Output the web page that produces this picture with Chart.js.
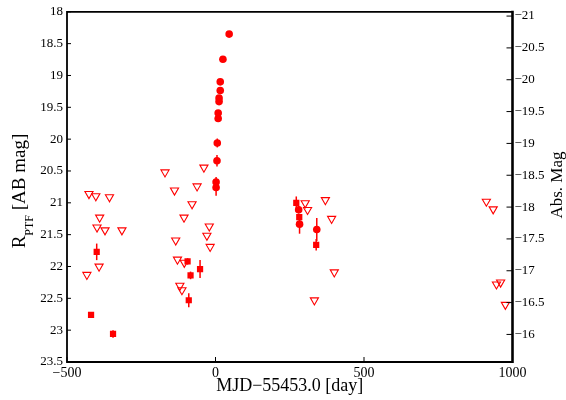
<!DOCTYPE html>
<html>
<head>
<meta charset="utf-8">
<script src="https://cdn.jsdelivr.net/npm/chart.js@4"></script>
<style>
html, body { margin: 0; padding: 0; background: #fff; }
#wrap { width: 566px; height: 400px; }
</style>
</head>
<body>
<div id="wrap"><canvas id="chart" width="566" height="400"></canvas></div>
<script>
// detections, filled circles
const circleDays = [46, 25, 16, 16, 12, 12, 9, 9, 6, 5, 2, 2, 280, 283, 341]
const circleMags = [18.35, 18.745, 19.10, 19.235, 19.355, 19.41, 19.59, 19.675, 20.06, 20.34, 20.675, 20.76, 21.11, 21.335, 21.42]
const circleErrs = [0.02, 0.02, 0.03, 0.03, 0.03, 0.03, 0.04, 0.04, 0.07, 0.09, 0.08, 0.13, 0.06, 0.15, 0.18]

// detections, filled squares
const squareDays = [-419, -400, -345, -94, -84, -90, -52, 272, 282, 339]
const squareMags = [22.76, 21.77, 23.06, 21.92, 22.14, 22.53, 22.04, 21.00, 21.225, 21.66]
const squareErrs = [0.03, 0.13, 0.06, 0.05, 0.06, 0.11, 0.14, 0.10, 0.05, 0.09]

// upper limits, open triangles
const limitDays = [-426, -403, -357, -390, -399, -372, -315, -392, -433,
    -170, -39, -138, -62, -79, -106, -21, -29, -134, -18, -128, -105, -120, -113,
    302, 310, 370, 391, 400, 333,
    912, 935, 946, 960, 976]
const limitMags = [20.86, 20.895, 20.91, 21.23, 21.385, 21.43, 21.43, 22.0, 22.13,
    20.52, 20.445, 20.805, 20.74, 21.02, 21.23, 21.37, 21.515, 21.59, 21.69, 21.89, 21.94, 22.30, 22.37,
    21.005, 21.11, 20.955, 21.25, 22.09, 22.53,
    20.98, 21.10, 22.28, 22.25, 22.60]

const dayTicks = [-500, 0, 500, 1000]
const magTicks = [18, 18.5, 19, 19.5, 20, 20.5, 21, 21.5, 22, 22.5, 23, 23.5]
const absTicks = [-21, -20.5, -20, -19.5, -19, -18.5, -18, -17.5, -17, -16.5, -16]
const distMod = 39.067

const red = 'rgb(255,0,0)'
const serif = "'Liberation Serif', 'DejaVu Serif', serif"

function toPoints(xs, ys) {
    return xs.map((x, i) => ({x: x, y: ys[i]}))
}

function minus(v) {
    return String(v).replace('-', '\u2212')
}

const decorations = {
    id: 'decorations',
    beforeDatasetsDraw(chart) {
        const ctx = chart.ctx
        const xs = chart.scales.x
        const ys = chart.scales.y
        ctx.save()
        ctx.strokeStyle = red
        ctx.lineWidth = 1.5
        chart.data.datasets.forEach(ds => {
            if (!ds.errors) return
            ds.data.forEach((p, i) => {
                const px = xs.getPixelForValue(p.x)
                ctx.beginPath()
                ctx.moveTo(px, ys.getPixelForValue(p.y - ds.errors[i]))
                ctx.lineTo(px, ys.getPixelForValue(p.y + ds.errors[i]))
                ctx.stroke()
            })
        })
        ctx.restore()
    },
    afterDraw(chart) {
        const ctx = chart.ctx
        const a = chart.chartArea
        ctx.save()
        ctx.strokeStyle = '#000'
        // frame
        ctx.lineWidth = 1.8
        ctx.beginPath()
        ctx.moveTo(a.right, a.top)
        ctx.lineTo(a.left, a.top)
        ctx.lineTo(a.left, a.bottom)
        ctx.lineTo(a.right, a.bottom)
        ctx.stroke()
        ctx.lineWidth = 2.6
        ctx.beginPath()
        ctx.moveTo(a.right, a.top - 1)
        ctx.lineTo(a.right, a.bottom + 1)
        ctx.stroke()
        // inward ticks
        ctx.lineWidth = 1
        chart.scales.y.ticks.forEach(t => {
            const py = chart.scales.y.getPixelForValue(t.value)
            ctx.beginPath(); ctx.moveTo(a.left, py); ctx.lineTo(a.left + 4, py); ctx.stroke()
        })
        chart.scales.y2.ticks.forEach(t => {
            const py = chart.scales.y2.getPixelForValue(t.value)
            ctx.beginPath(); ctx.moveTo(a.right - 6, py); ctx.lineTo(a.right, py); ctx.stroke()
        })
        chart.scales.x.ticks.forEach(t => {
            const px = chart.scales.x.getPixelForValue(t.value)
            ctx.beginPath(); ctx.moveTo(px, a.bottom); ctx.lineTo(px, a.bottom - 5); ctx.stroke()
        })
        // axis titles
        ctx.fillStyle = '#000'
        ctx.textBaseline = 'alphabetic'
        ctx.textAlign = 'left'
        ctx.font = '18px ' + serif
        const xTitle = 'MJD\u221255453.0 [day]'
        const xw = ctx.measureText(xTitle).width
        ctx.fillText(xTitle, (a.left + a.right) / 2 - xw / 2, 391)

        ctx.save()
        ctx.translate(25, 191)
        ctx.rotate(-Math.PI / 2)
        ctx.font = '19px ' + serif
        const wR = ctx.measureText('R').width
        const wRest = ctx.measureText(' [AB mag]').width
        ctx.font = '12px ' + serif
        const wSub = ctx.measureText('PTF').width
        let x0 = -(wR + wSub + wRest) / 2
        ctx.font = '19px ' + serif
        ctx.fillText('R', x0, 0)
        ctx.font = '12px ' + serif
        ctx.fillText('PTF', x0 + wR, 8)
        ctx.font = '19px ' + serif
        ctx.fillText(' [AB mag]', x0 + wR + wSub, 0)
        ctx.restore()

        ctx.save()
        ctx.translate(562, 185)
        ctx.rotate(-Math.PI / 2)
        ctx.font = '17px ' + serif
        ctx.textAlign = 'center'
        ctx.fillText('Abs. Mag', 0, 0)
        ctx.restore()
        ctx.restore()
    }
}

new Chart(document.getElementById('chart'), {
    type: 'scatter',
    data: {
        datasets: [
            {
                label: 'circles',
                data: toPoints(circleDays, circleMags),
                errors: circleErrs,
                pointStyle: 'circle',
                pointRadius: 3.8,
                backgroundColor: red,
                borderColor: red,
                borderWidth: 0
            },
            {
                label: 'squares',
                data: toPoints(squareDays, squareMags),
                errors: squareErrs,
                pointStyle: 'rect',
                pointRadius: 4.4,
                backgroundColor: red,
                borderColor: red,
                borderWidth: 0
            },
            {
                label: 'limits',
                data: toPoints(limitDays, limitMags),
                pointStyle: 'triangle',
                pointRotation: 180,
                pointRadius: 4.7,
                backgroundColor: 'rgba(255,255,255,0)',
                borderColor: red,
                borderWidth: 1.1
            }
        ]
    },
    options: {
        responsive: false,
        animation: false,
        layout: { padding: { top: 11, left: 0, right: 0, bottom: 0 } },
        plugins: {
            legend: { display: false },
            tooltip: { enabled: false }
        },
        scales: {
            x: {
                type: 'linear',
                min: -500,
                max: 1000,
                grid: { display: false, drawTicks: false },
                border: { display: false },
                afterBuildTicks: s => { s.ticks = dayTicks.map(v => ({value: v})) },
                afterFit: s => { s.height = 38 },
                ticks: {
                    padding: 3,
                    color: '#000',
                    maxRotation: 0,
                    font: { family: serif, size: 14 },
                    callback: v => minus(v)
                }
            },
            y: {
                position: 'left',
                min: 18,
                max: 23.5,
                reverse: true,
                grid: { display: false, drawTicks: false },
                border: { display: false },
                afterBuildTicks: s => { s.ticks = magTicks.map(v => ({value: v})) },
                afterFit: s => { s.width = 67 },
                ticks: {
                    padding: 4,
                    color: '#000',
                    font: { family: serif, size: 13 },
                    callback: v => minus(v)
                }
            },
            y2: {
                position: 'right',
                min: 18 - distMod,
                max: 23.5 - distMod,
                reverse: true,
                grid: { display: false, drawTicks: false },
                border: { display: false },
                afterBuildTicks: s => { s.ticks = absTicks.map(v => ({value: v})) },
                afterFit: s => { s.width = 53.5 },
                ticks: {
                    padding: 2,
                    color: '#000',
                    font: { family: serif, size: 13 },
                    callback: v => minus(v)
                }
            }
        }
    },
    plugins: [decorations]
})
</script>
</body>
</html>
